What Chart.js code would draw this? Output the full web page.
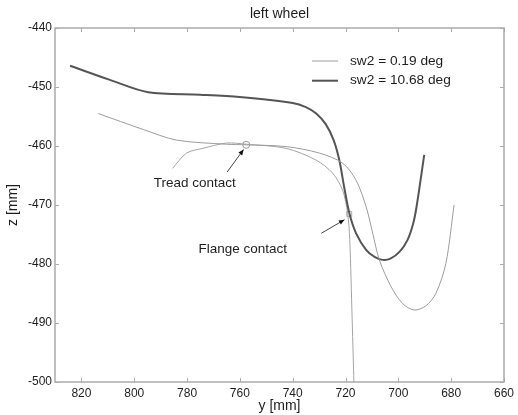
<!DOCTYPE html>
<html>
<head>
<meta charset="utf-8">
<script src="https://cdn.jsdelivr.net/npm/chart.js@4.4.1/dist/chart.umd.min.js"></script>
<style>
  html, body { margin: 0; padding: 0; background: #fff; }
  #wrap { width: 518px; height: 415px; position: relative; }
</style>
</head>
<body>
<div id="wrap"><canvas id="c" width="518" height="415"></canvas></div>
<script>
// y [mm] / z [mm]
const thickY = [824.3, 809.2, 794.7, 775.0, 760.1, 740.0, 735.0, 731.1, 727.5, 724.5, 722.3, 720.5, 718.5, 716.0, 712.2, 709.0, 706.0, 703.0, 699.5, 696.5, 694.3, 693.0, 690.2];
const thickZ = [-446.4, -448.8, -450.9, -451.3, -451.7, -452.7, -453.4, -454.5, -456.3, -459.0, -462.5, -467.0, -471.5, -474.8, -477.6, -478.8, -479.3, -479.1, -477.9, -475.9, -473.0, -470.0, -461.5];

const thinY = [813.6, 796.6, 784.0, 765.1, 757.6, 742.5, 729.9, 721.1, 716.0, 712.2, 709.7, 707.2, 702.8, 698.4, 694.0, 689.6, 685.8, 682.0, 678.9];
const thinZ = [-454.5, -457.2, -459.0, -459.7, -459.8, -460.1, -461.2, -462.9, -465.8, -470.3, -474.8, -479.3, -483.8, -486.7, -487.8, -487.1, -485.0, -479.9, -470.0];

const railY = [785.5, 780.2, 774.0, 765.1, 757.6, 742.5, 731.1, 724.9, 721.1, 719.2, 718.4, 717.5, 716.7];
const railZ = [-463.8, -461.2, -460.4, -459.5, -459.7, -460.4, -462.4, -464.6, -467.5, -471.4, -475.9, -489.2, -502.0];

const treadPt = [757.6, -459.8];
const flangePt = [718.6, -471.5];

// arrows: [fromY, fromZ, toY, toZ]
const treadArrow = [764.8, -464.4, 758.6, -460.6];
const flangeArrow = [729.2, -474.8, 720.4, -472.5];
const treadLabel = ['Tread contact', 777.1, -466.3];
const flangeLabel = ['Flange contact', 758.9, -477.5];

const xTicks = [820, 800, 780, 760, 740, 720, 700, 680, 660];
const yTicks = [-440, -450, -460, -470, -480, -490, -500];
const seriesNames = ['sw2 = 0.19 deg', 'sw2 = 10.68 deg'];

const THIN = '#9c9c9c', THICK = '#555555', AXIS = '#ababab', TXT = '#1e1e1e';
const FONT = '"Liberation Sans", Arial, sans-serif';

const pts = (xs, ys) => xs.map((x, i) => ({ x, y: ys[i] }));

const deco = {
  id: 'deco',
  afterDraw(chart) {
    const { ctx, chartArea: a, scales: { x, y } } = chart;
    ctx.save();
    // box
    ctx.strokeStyle = AXIS; ctx.lineWidth = 1.5;
    ctx.strokeRect(a.left, a.top, a.right - a.left, a.bottom - a.top);
    // inward ticks
    ctx.lineWidth = 1;
    xTicks.forEach(v => {
      const px = Math.round(x.getPixelForValue(v)) + 0.5;
      ctx.beginPath();
      ctx.moveTo(px, a.bottom); ctx.lineTo(px, a.bottom - 4);
      ctx.moveTo(px, a.top); ctx.lineTo(px, a.top + 4);
      ctx.stroke();
    });
    yTicks.forEach(v => {
      const py = Math.round(y.getPixelForValue(v)) + 0.5;
      ctx.beginPath();
      ctx.moveTo(a.left, py); ctx.lineTo(a.left + 4, py);
      ctx.moveTo(a.right, py); ctx.lineTo(a.right - 4, py);
      ctx.stroke();
    });
    // title
    ctx.fillStyle = TXT;
    ctx.font = '14px ' + FONT;
    ctx.textAlign = 'center'; ctx.textBaseline = 'middle';
    ctx.fillText('left wheel', (a.left + a.right) / 2, 14);
    // legend
    ctx.font = '13.7px ' + FONT;
    ctx.textAlign = 'left';
    [[THIN, 1], [THICK, 2]].forEach(([col, w], i) => {
      const ly = 61 + i * 19.7;
      ctx.strokeStyle = col; ctx.lineWidth = w;
      ctx.beginPath(); ctx.moveTo(312, ly); ctx.lineTo(338, ly); ctx.stroke();
      ctx.fillText(seriesNames[i], 350, ly);
    });
    // annotations
    ctx.font = '13.5px ' + FONT;
    ctx.textAlign = 'center';
    [treadLabel, flangeLabel].forEach(([t, vx, vy]) => {
      ctx.fillText(t, x.getPixelForValue(vx), y.getPixelForValue(vy));
    });
    [treadArrow, flangeArrow].forEach(([x0, y0, x1, y1]) => {
      const p0 = [x.getPixelForValue(x0), y.getPixelForValue(y0)];
      const p1 = [x.getPixelForValue(x1), y.getPixelForValue(y1)];
      const ang = Math.atan2(p1[1] - p0[1], p1[0] - p0[0]);
      ctx.strokeStyle = '#444'; ctx.lineWidth = 1;
      ctx.beginPath(); ctx.moveTo(p0[0], p0[1]); ctx.lineTo(p1[0], p1[1]); ctx.stroke();
      ctx.fillStyle = '#111';
      ctx.beginPath();
      ctx.moveTo(p1[0], p1[1]);
      ctx.lineTo(p1[0] - 6 * Math.cos(ang - 0.4), p1[1] - 6 * Math.sin(ang - 0.4));
      ctx.lineTo(p1[0] - 6 * Math.cos(ang + 0.4), p1[1] - 6 * Math.sin(ang + 0.4));
      ctx.closePath(); ctx.fill();
    });
    ctx.restore();
  }
};

new Chart(document.getElementById('c'), {
  type: 'scatter',
  data: {
    datasets: [
      { label: seriesNames[0], data: pts(thinY, thinZ), showLine: true, borderColor: THIN, borderWidth: 1, pointRadius: 0, tension: 0.3 },
      { label: seriesNames[1], data: pts(thickY, thickZ), showLine: true, borderColor: THICK, borderWidth: 2, pointRadius: 0, tension: 0.3 },
      { label: 'rail', data: pts(railY, railZ), showLine: true, borderColor: '#a4a4a4', borderWidth: 1, pointRadius: 0, tension: 0.3 },
      { label: 'tread', data: [{ x: treadPt[0], y: treadPt[1] }], pointStyle: 'circle', pointRadius: 3.5, borderColor: '#999', borderWidth: 1, backgroundColor: 'rgba(0,0,0,0)' },
      { label: 'flange', data: [{ x: flangePt[0], y: flangePt[1] }], pointStyle: 'rect', pointRadius: 3.5, borderColor: '#aaa', borderWidth: 1, backgroundColor: 'rgba(0,0,0,0)' },
    ],
  },
  options: {
    responsive: false,
    animation: false,
    events: [],
    layout: { padding: { top: 28, right: 13, left: 0, bottom: 0 } },
    plugins: { legend: { display: false }, title: { display: false }, tooltip: { enabled: false } },
    scales: {
      x: {
        type: 'linear', min: 660, max: 830, reverse: true,
        afterBuildTicks: s => { s.ticks = xTicks.map(v => ({ value: v })); },
        afterFit: s => { s.height = 33; },
        grid: { drawOnChartArea: false, drawTicks: false },
        border: { display: false },
        ticks: { padding: 4, color: TXT, font: { family: FONT, size: 12 }, maxRotation: 0, autoSkip: false },
        title: { display: true, text: 'y [mm]', color: TXT, font: { family: FONT, size: 14 }, padding: { top: 0, bottom: 0 } },
      },
      y: {
        type: 'linear', min: -500, max: -440,
        afterBuildTicks: s => { s.ticks = yTicks.map(v => ({ value: v })); },
        afterFit: s => { s.width = 55; },
        grid: { drawOnChartArea: false, drawTicks: false },
        border: { display: false },
        ticks: { padding: 3, color: TXT, font: { family: FONT, size: 12 }, autoSkip: false },
        title: { display: true, text: 'z [mm]', color: TXT, font: { family: FONT, size: 14 }, padding: { top: 5, bottom: 4 } },
      },
    },
  },
  plugins: [deco],
});
</script>
</body>
</html>
